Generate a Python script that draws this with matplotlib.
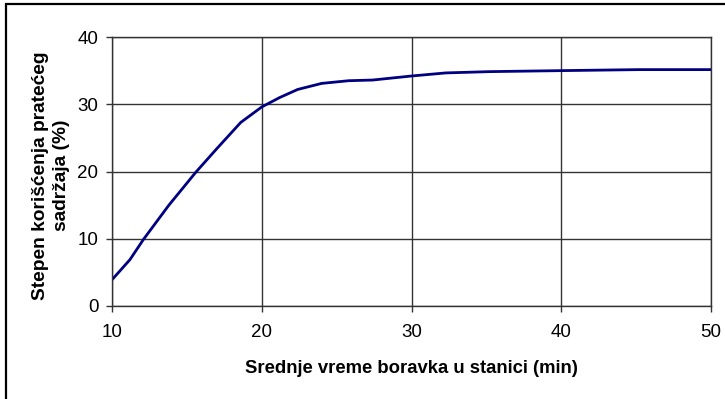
import matplotlib.pyplot as plt
from matplotlib.patches import Rectangle

# mean dwell time (min) vs. share using accompanying facilities (%)
vreme = [10, 11.2, 12.1, 13, 13.8, 15.6, 17, 18.6, 20, 21.2, 22.4, 24, 25.8,
         27.4, 30, 32.3, 35.2, 40, 45.2, 50]
stepen = [3.9, 6.9, 9.9, 12.6, 15.0, 19.9, 23.4, 27.3, 29.6, 31.0, 32.2, 33.1, 33.5,
          33.6, 34.2, 34.66, 34.85, 35.0, 35.15, 35.15]

x_ticks = [10, 20, 30, 40, 50]
y_ticks = [0, 10, 20, 30, 40]

plt.rcParams['font.family'] = ['Liberation Sans', 'DejaVu Sans']

fig = plt.figure(figsize=(7.25, 3.99), dpi=100)
ax = fig.add_axes([112 / 725, 1 - 306 / 399, 599 / 725, 269 / 399])

ax.plot(vreme, stepen, color='#000080', linewidth=2.0, solid_joinstyle='round')

ax.set_xlim(10, 50)
ax.set_ylim(0, 40)
ax.set_xticks(x_ticks)
ax.set_yticks(y_ticks)
ax.grid(True, color='#333333', linewidth=1.0)
ax.set_axisbelow(True)
for s in ax.spines.values():
    s.set_color('#333333')
    s.set_linewidth(1.0)

ax.tick_params(direction='out', length=4.3, width=1, color='#333333', labelsize=13.5)
ax.tick_params(axis='y', pad=5.5)
ax.tick_params(axis='x', pad=9)

ax.set_xlabel('Srednje vreme boravka u stanici (min)', fontsize=13.3, fontweight='bold',
              labelpad=13)
ax.set_ylabel('Stepen korišćenja pratećeg\nsadržaja (%)', fontsize=13.8, fontweight='bold',
              linespacing=1.3)
ax.yaxis.set_label_coords(-0.070, 0.485)

# frame around the whole chart, running off the right and bottom edges
fig.patches.append(Rectangle((6 / 725, -0.1), 1.2, 1.1 - 4 / 399, transform=fig.transFigure,
                             fill=False, edgecolor='black', linewidth=1.6))

fig.savefig('out.png', dpi=100)
